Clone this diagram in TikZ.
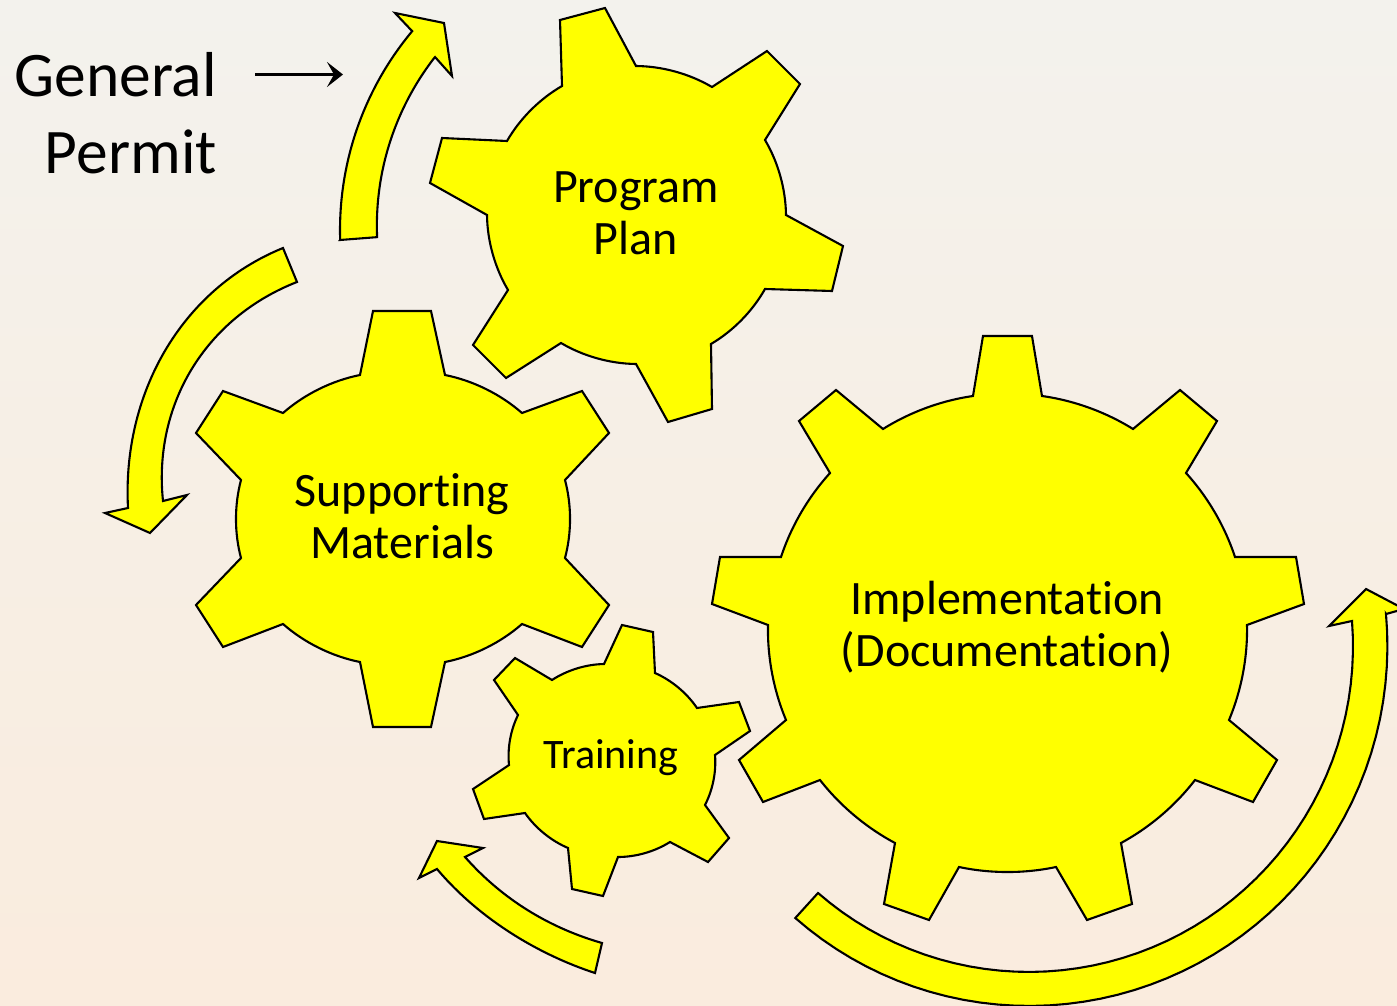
\documentclass[tikz,border=0pt]{standalone}
\usepackage{fontspec}
\setmainfont[Ligatures=NoCommon]{Carlito}
\usetikzlibrary{arrows.meta}
\definecolor{gearyellow}{RGB}{255,255,0}
\definecolor{bgtop}{RGB}{243,242,237}
\definecolor{bgbot}{RGB}{250,236,222}
% circular arc with linearly interpolated radius (pixel coordinates, y down)
\newcommand{\radarc}[6]{-- plot[domain=#2:#5,samples=50] ({#1+(#3+(#6-#3)*(\x-(#2))/((#5)-(#2)))*cos(\x)},{#4+(#3+(#6-#3)*(\x-(#2))/((#5)-(#2)))*sin(\x)})}
\tikzset{
  shapeline/.style={draw=black,line width=2.1pt,fill=gearyellow,line join=miter},
  garcA/.style={bend left=15,looseness=.85},
  garcB/.style={bend left=15,looseness=.85},
  garcC/.style={bend left=16,looseness=.85},
  garcD/.style={bend left=12,looseness=.85},
  geartext/.style={align=center,text=black,font=\fontsize{48}{52}\selectfont,inner sep=0pt},
  smalltext/.style={align=center,text=black,font=\fontsize{42}{48}\selectfont,inner sep=0pt},
  bigtext/.style={align=right,text=black,font=\fontsize{63.5}{76.5}\selectfont,inner sep=0pt},
  pointer/.style={draw=black,line width=2.6pt,-{Stealth[length=16pt,width=25pt,inset=7pt]}}
}
\begin{document}
\begin{tikzpicture}[x=1pt,y=-1pt]
\useasboundingbox (0,0) rectangle (1397,1006);
\shade[top color=bgtop,bottom color=bgbot,middle color=bgtop!45!bgbot] (0,0) rectangle (1397,1006);
\begin{scope}
\clip (0,0) rectangle (1397,1006);
% Program Plan gear
\draw[shapeline] (560,20) -- (605,8) -- (636,66) to[garcA] (712,87) -- (767,51) -- (800,84) -- (765,140)
  to[garcA] (786,215) -- (843,246) -- (832,291) -- (765,289) to[garcA] (711,344) -- (712,409) -- (668,422)
  -- (636,364) to[garcA] (561,343) -- (506,378) -- (473,345) -- (508,290) to[garcA] (487,215) -- (430,183)
  -- (442,138) -- (507,141) to[garcA] (562,86) -- cycle;
% Supporting Materials gear
\draw[shapeline] (373,311) -- (431,311) -- (445,375) to[garcB] (522,413) -- (582,391) -- (609,433) -- (565,480)
  to[garcB] (565,558) -- (609,605) -- (582,647) -- (522,624) to[garcB] (445,662) -- (431,727) -- (373,727)
  -- (360,662) to[garcB] (283,624) -- (223,647) -- (196,605) -- (241,558) to[garcB] (241,480) -- (196,433)
  -- (223,391) -- (283,413) to[garcB] (360,375) -- cycle;
% Training gear
\draw[shapeline] (622,625) -- (653,632) -- (655,673) to[garcC] (697,708) -- (739,702) -- (750,731) -- (715,755)
  to[garcC] (705,805) -- (729,838) -- (708,862) -- (670,842) to[garcC] (618,857) -- (603,896) -- (572,889)
  -- (568,848) to[garcC] (525,813) -- (484,819) -- (473,789) -- (509,765) to[garcC] (518,715) -- (494,680)
  -- (515,658) -- (552,680) to[garcC] (604,664) -- cycle;
% Implementation gear
\draw[shapeline] (983,336) -- (1032,336) -- (1042,396) to[garcD] (1133,429) -- (1180,390) -- (1217,421) -- (1186,473)
  to[garcD] (1235,557) -- (1296,557) -- (1304,604) -- (1247,625) to[garcD] (1229,720) -- (1277,760) -- (1253,802)
  -- (1195,780) to[garcD] (1121,843) -- (1132,904) -- (1087,920) -- (1056,867) to[garcD] (959,867) -- (929,920)
  -- (884,904) -- (895,843) to[garcD] (820,780) -- (763,802) -- (739,760) -- (786,720) to[garcD] (768,625)
  -- (712,604) -- (720,557) -- (781,557) to[garcD] (830,473) -- (799,421) -- (836,390) -- (883,429) to[garcD] (973,396) -- cycle;
% Curved arrow, top
\draw[shapeline] (340,240) \radarc{650}{178.2}{310}{230}{219.9}{310} -- (395,13) -- (444,23) -- (452,76) -- (435,57)
  \radarc{650}{218.8}{276}{230}{178.5}{273} -- cycle;
% Curved arrow, left
\draw[shapeline] (283,248) .. controls (180,290) and (122,395) .. (128,508)
  -- (105,513) -- (150,533) -- (187,495) -- (163,501)
  .. controls (153,405) and (205,318) .. (297,282) -- cycle;
% Curved arrow, bottom
\draw[shapeline] (595,973) .. controls (540,955) and (480,920) .. (437,869)
  -- (419,878) -- (437,841) -- (483,848) -- (465,857)
  .. controls (503,900) and (550,928) .. (602,943) -- cycle;
% Curved arrow, large
\draw[shapeline] (818,893) \radarc{1025}{130.4}{319.2}{650}{-5.07}{328.3} -- (1329,626) -- (1366,589) -- (1404,609) -- (1386,614)
  \radarc{1025}{-5.7}{362.8}{650}{130.6}{353} -- cycle;
\end{scope}
% Labels
\node[geartext] (program) at (636,213) {Program\\Plan};
\node[geartext] (supporting) at (402,516) {Supporting\\Materials};
\node[smalltext] (training) at (611,758) {Training};
\node[geartext] (implementation) at (1007,627) {Implementation\\(Documentation)};
\node[bigtext,anchor=east] (permit) at (217,113) {General\\Permit};
\coordinate (pstart) at (255,74.5);
\coordinate (pend) at (343,74.5);
\draw[pointer] (pstart) -- (pend);
\end{tikzpicture}
\end{document}
